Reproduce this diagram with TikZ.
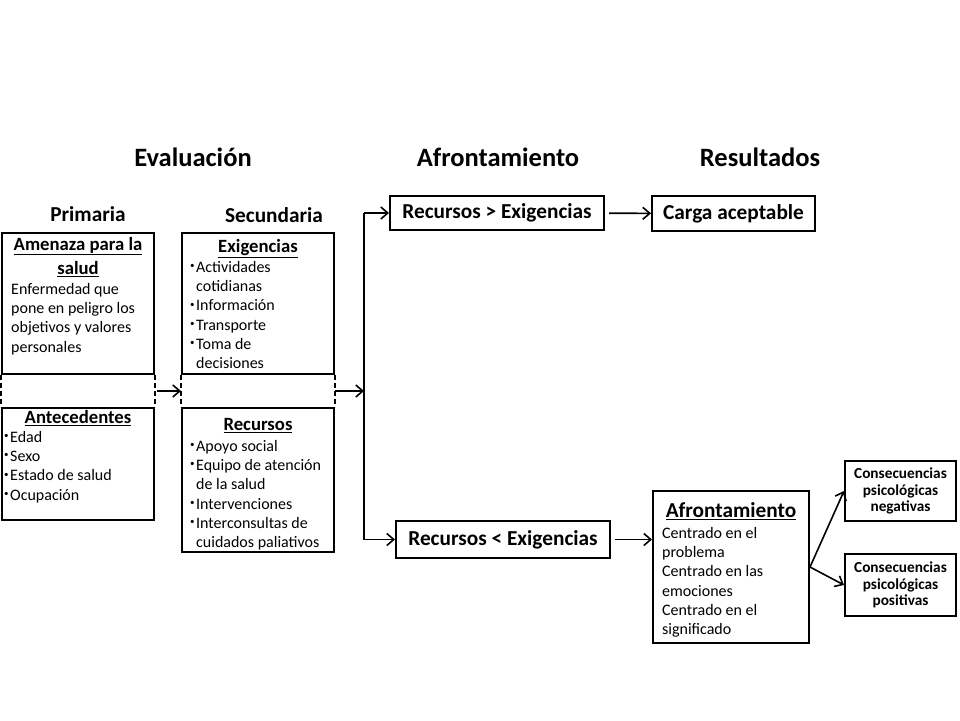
\documentclass[tikz,border=0pt]{standalone}
\usepackage{fontspec}
\setmainfont{Carlito}
\usetikzlibrary{arrows.meta,calc}
\newcommand{\bul}{\makebox[6pt][l]{\raisebox{0.5ex}{\fontsize{9}{9}\selectfont\textbullet}}}
\newcommand{\sig}{\hspace*{6pt}}
\begin{document}
\begin{tikzpicture}[x=1pt,y=-1pt,
  caja/.style={draw,line width=2pt,inner sep=0pt},
  titulo/.style={font=\fontsize{26.5}{32}\selectfont\bfseries},
  subtitulo/.style={font=\fontsize{21.3}{26}\selectfont\bfseries},
  cabeza/.style={font=\fontsize{18.7}{24}\selectfont\bfseries,align=center,inner sep=0pt,anchor=north},
  cuerpo/.style={font=\fontsize{16}{19.3}\selectfont,align=left,inner sep=0pt,anchor=north west},
  relacion/.style={caja,font=\fontsize{21.3}{26}\selectfont\bfseries},
  conse/.style={caja,font=\fontsize{15.3}{16.6}\selectfont\bfseries,align=center,minimum width=111pt},
  linea/.style={line width=1.6pt},
  flecha/.style={linea,-{Straight Barb[length=7pt,width=12pt]}},
  tramo/.style={linea,dash pattern=on 5pt off 3pt}]
		\useasboundingbox (0,0) rectangle (960,720);
		\node[titulo] (evaluacion) at (193,157) {Evaluación};
		\node[titulo] (afrontamiento) at (498,157) {Afrontamiento};
		\node[titulo] (resultados) at (760,157) {Resultados};
		\node[subtitulo] (primaria) at (88,214) {Primaria};
		\node[subtitulo] (secundaria) at (274,215) {Secundaria};

		\node[caja,minimum width=152pt,minimum height=141pt] (amenaza) at (78,303.5) {};
		\node[caja,minimum width=152pt,minimum height=112pt] (antecedentes) at (78,464) {};
		\node[caja,minimum width=152pt,minimum height=141pt] (exigencias) at (258,303.5) {};
		\node[caja,minimum width=152pt,minimum height=144pt] (recursos) at (258,480) {};
		\draw[tramo] (amenaza.south west) -- (antecedentes.north west);
		\draw[tramo] (amenaza.south east) -- (antecedentes.north east);
		\draw[tramo] (exigencias.south west) -- (recursos.north west);
		\draw[tramo] (exigencias.south east) -- (recursos.north east);

		\node[cabeza] (amenazat) at ([shift={(0,5)}]amenaza.north) {\underline{Amenaza para la}\\\underline{salud}};
		\node[cuerpo] (amenazac) at ([shift={(10,51)}]amenaza.north west) {Enfermedad que\\pone en peligro los\\objetivos y valores\\personales};
		\node[cabeza] (antecedentest) at ([shift={(0,3)}]antecedentes.north) {\underline{Antecedentes}};
		\node[cuerpo] (antecedentesc) at ([shift={(3,24)}]antecedentes.north west) {\bul Edad\\\bul Sexo\\\bul Estado de salud\\\bul Ocupación};
		\node[cabeza] (exigenciast) at ([shift={(0,7)}]exigencias.north) {\underline{Exigencias}};
		\node[cuerpo] (exigenciasc) at ([shift={(9,29)}]exigencias.north west) {\bul Actividades\\\sig cotidianas\\\bul Información\\\bul Transporte\\\bul Toma de\\\sig decisiones};
		\node[cabeza] (recursost) at ([shift={(0,11)}]recursos.north) {\underline{Recursos}};
		\node[cuerpo] (recursosc) at ([shift={(9,33)}]recursos.north west) {\bul Apoyo social\\\bul Equipo de atención\\\sig de la salud\\\bul Intervenciones\\\bul Interconsultas de\\\sig cuidados paliativos};

		\node[relacion,minimum width=214pt,minimum height=34pt] (mayor) at (497,213) {Recursos > Exigencias};
		\node[relacion,minimum width=214pt,minimum height=37pt] (menor) at (503,539.5) {Recursos < Exigencias};
		\node[relacion,minimum width=163pt,minimum height=35pt] (carga) at (733.5,213.5) {Carga aceptable};
		\node[caja,minimum width=156pt,minimum height=152pt] (afront) at (731,567) {};
		\node[cabeza,font=\fontsize{21.3}{26}\selectfont\bfseries] (afrontt) at ([shift={(0,12)}]afront.north) {\underline{Afrontamiento}};
		\node[cuerpo] (afrontc) at ([shift={(10,37)}]afront.north west) {Centrado en el\\problema\\Centrado en las\\emociones\\Centrado en el\\significado};
		\node[conse,minimum height=60pt] (negativas) at (900.5,491) {Consecuencias\\psicológicas\\negativas};
		\node[conse,minimum height=62pt] (positivas) at (900.5,585) {Consecuencias\\psicológicas\\positivas};

		\coordinate (entre) at ($(amenaza.south east)!0.5!(antecedentes.north east)$);
		\coordinate (sal) at ($(exigencias.south east)!0.5!(recursos.north east)$);
		\coordinate (rama) at ($(sal)+(29,0)$);
		\draw[flecha,shorten <=2pt] (entre) -- (entre -| exigencias.west);
		\draw[flecha] (sal) -- (rama);
		\draw[linea] (rama |- mayor) -- (rama |- menor);
		\draw[flecha] (rama |- mayor) -- (mayor);
		\draw[flecha] (rama |- menor) -- (menor);
		\draw[flecha,shorten <=4pt] (mayor) -- (carga);
		\draw[flecha,shorten <=4pt] (menor) -- (menor -| afront.west);
		\draw[flecha] (afront.east) -- (negativas.west);
		\draw[flecha] (afront.east) -- (positivas.west);
\end{tikzpicture}
\end{document}
